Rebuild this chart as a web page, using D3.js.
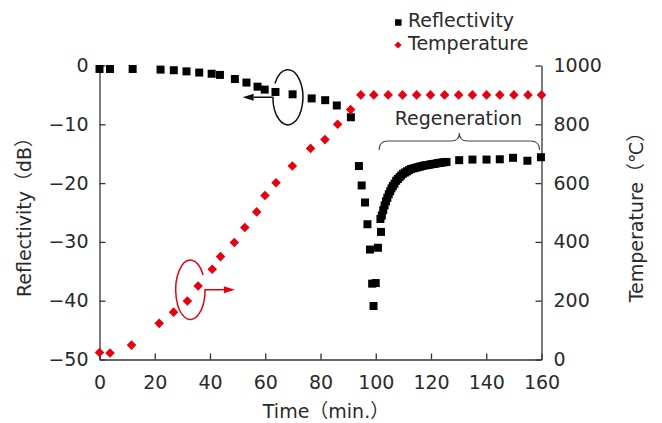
<!DOCTYPE html>
<html>
<head>
<meta charset="utf-8">
<script src="https://cdn.jsdelivr.net/npm/d3@7"></script>
<style>
  html, body { margin: 0; padding: 0; background: #fff; }
  svg { display: block; }
  text { font-family: "DejaVu Sans", "Noto Sans CJK JP", sans-serif; fill: #2a2a2a; }
</style>
</head>
<body>
<svg id="chart" width="662" height="423"></svg>
<script>
// Reflectivity of the grating (dB) versus time (min.)
const reflTime = [0, 3.8, 12, 22.1, 26.9, 31.5, 36.1, 40.6, 43.6, 49, 53.2, 57.2, 59.8, 63.7, 69.9, 76.8, 81.7, 85.9, 91,
  93.9, 94.9, 96.1, 97, 97.9, 98.7, 99.2, 100, 100.8, 101.9, 101.7,
  102.2, 102.7, 103.2, 103.7, 104.2, 104.7, 105.2, 105.7, 106.2, 106.8, 107.4, 108.0, 108.6, 109.2, 109.9,
  110.6, 111.3, 112.0, 112.8, 113.6, 114.4, 115.2, 116.0, 116.8, 117.6, 118.4, 119.2, 120.0, 120.8, 121.6,
  122.4, 123.2, 124.0, 124.8, 125.6,
  130.2, 135, 140.1, 144.9, 149.7, 154.9, 159.8];
const reflValue = [-0.6, -0.6, -0.6, -0.7, -0.8, -1.0, -1.2, -1.4, -1.6, -2.3, -2.9, -3.6, -4.1, -4.5, -4.9, -5.6, -5.9, -6.8, -8.8,
  -17.1, -20.4, -23.3, -27.0, -31.3, -37.1, -40.9, -37.0, -31.0, -28.3, -26.1,
  -25.5, -24.6, -23.8, -23.1, -22.5, -21.9, -21.4, -20.9, -20.5, -20.1, -19.6, -19.3, -19.0, -18.7, -18.4,
  -18.2, -18.0, -17.8, -17.6, -17.5, -17.4, -17.3, -17.2, -17.1, -17.0, -16.95, -16.9, -16.8, -16.75, -16.7,
  -16.6, -16.55, -16.5, -16.45, -16.4,
  -16.1, -16.0, -16.0, -15.95, -15.7, -16.2, -15.6];

// Furnace temperature (°C) versus time (min.)
const tempTime = [0, 3.8, 11.6, 21.6, 26.8, 31.8, 35.7, 40.8, 43.8, 48.8, 52.6, 56.9, 59.9, 63.9, 69.8, 76.4, 81.6, 86.2, 90.9,
  94.6, 99.3, 104.5, 109.7, 114.8, 119.8, 124.9, 130, 135, 140.1, 144.9, 150, 155.1, 160];
const tempValue = [24, 22, 49, 123, 161, 199, 250, 307, 350, 398, 449, 502, 558, 601, 658, 718, 748, 800, 850,
  900, 900, 900, 900, 900, 900, 900, 900, 900, 900, 900, 900, 900, 900];

// Axis ticks
const timeTicks = [0, 20, 40, 60, 80, 100, 120, 140, 160];
const dbTicks = [0, -10, -20, -30, -40, -50];
const tempTicks = [0, 200, 400, 600, 800, 1000];

const svg = d3.select("#chart");
const RED = "#e8000f";
const AXIS = "#333";
const FS = 19;

const x = d3.scaleLinear().domain([0, 160]).range([99.5, 541.5]);
const yL = d3.scaleLinear().domain([-50, 0]).range([359.5, 65.5]);
const yR = d3.scaleLinear().domain([0, 1000]).range([359.5, 65.5]);

function styleAxis(g) {
  g.select(".domain").attr("stroke", AXIS).attr("stroke-width", 1.3);
  g.selectAll(".tick line").attr("stroke", AXIS).attr("stroke-width", 1.3);
  g.selectAll(".tick text").attr("font-size", FS).attr("fill", "#2a2a2a")
    .attr("font-family", "'DejaVu Sans', sans-serif");
}

// Bottom axis
svg.append("g").attr("transform", `translate(0,${yL(-50)})`)
  .call(d3.axisBottom(x).tickValues(timeTicks).tickSizeInner(-6).tickSizeOuter(0).tickPadding(16))
  .call(styleAxis);

// Left axis (reflectivity)
svg.append("g").attr("transform", `translate(${x(0)},0)`)
  .call(d3.axisLeft(yL).tickValues(dbTicks).tickSizeInner(-6).tickSizeOuter(0).tickPadding(11)
    .tickFormat(d => d === 0 ? "0" : "\u2212" + Math.abs(d)))
  .call(styleAxis);

// Right axis (temperature)
svg.append("g").attr("transform", `translate(${x(160)},0)`)
  .call(d3.axisRight(yR).tickValues(tempTicks).tickSizeInner(-6).tickSizeOuter(0).tickPadding(12)
    .tickFormat(d3.format("d")))
  .call(styleAxis);

// Axis titles
svg.append("text").attr("x", x(82)).attr("y", 418).attr("text-anchor", "middle")
  .attr("font-size", FS).text("Time（min.）");
svg.append("text").attr("transform", `translate(31,${yL(-25)}) rotate(-90)`)
  .attr("text-anchor", "middle").attr("font-size", FS).text("Reflectivity（dB）");
svg.append("text").attr("transform", `translate(643,${yR(500)}) rotate(-90)`)
  .attr("text-anchor", "middle").attr("font-size", FS).text("Temperature（℃）");

// Reflectivity markers
const reflData = reflTime.map((t, i) => ({ t, v: reflValue[i] }));
svg.append("g").selectAll("path").data(reflData).join("path")
  .attr("d", d3.symbol(d3.symbolSquare, 64))
  .attr("transform", d => `translate(${x(d.t)},${yL(d.v)})`)
  .attr("fill", "#000");

// Temperature markers
const tempData = tempTime.map((t, i) => ({ t, v: tempValue[i] }));
svg.append("g").selectAll("path").data(tempData).join("path")
  .attr("d", d3.symbol(d3.symbolSquare, 46))
  .attr("transform", d => `translate(${x(d.t)},${yR(d.v)}) rotate(45)`)
  .attr("fill", RED);

// Ellipse callout with arrow, pointing to an axis
function callout(cx, cy, rx, ry, a0, a1, sweep, tipX, color) {
  const p0 = [cx + rx * Math.cos(a0), cy + ry * Math.sin(a0)];
  const p1 = [cx + rx * Math.cos(a1), cy + ry * Math.sin(a1)];
  const dir = Math.sign(tipX - p1[0]);
  const base = tipX - dir * 11;
  svg.append("path")
    .attr("d", `M${p0[0]},${p0[1]} A${rx},${ry} 0 1 ${sweep} ${p1[0]},${p1[1]} L${base},${p1[1]}`)
    .attr("fill", "none").attr("stroke", color).attr("stroke-width", 1.5);
  svg.append("path")
    .attr("d", `M${tipX},${p1[1]} L${base},${p1[1] - 3.5} L${base},${p1[1] + 3.5} Z`)
    .attr("fill", color);
}
const deg = Math.PI / 180;
callout(x(68.2), yL(-5.4), 15, 27.5, -150 * deg, 180 * deg, 1, x(51.8), "#111");
callout(x(32.9), yR(237), 14.7, 29.7, -30 * deg, 0, 0, x(49), RED);

// Regeneration brace
const bx0 = x(101.2), bx1 = x(159.3), bm = (bx0 + bx1) / 2;
const by = 141, byEnd = 150, byTip = 133;
svg.append("path")
  .attr("d", `M${bx0},${byEnd} Q${bx0},${by} ${bx0 + 9},${by} L${bm - 8},${by} Q${bm},${by} ${bm},${byTip}
              Q${bm},${by} ${bm + 8},${by} L${bx1 - 9},${by} Q${bx1},${by} ${bx1},${byEnd}`)
  .attr("fill", "none").attr("stroke", "#444").attr("stroke-width", 1.1);
svg.append("text").attr("x", bm - 1).attr("y", 125).attr("text-anchor", "middle")
  .attr("font-size", FS).text("Regeneration");

// Legend
const legend = svg.append("g");
legend.append("path").attr("d", d3.symbol(d3.symbolSquare, 42))
  .attr("transform", "translate(398.3,22.5)").attr("fill", "#000");
legend.append("text").attr("x", 408).attr("y", 26.5).attr("font-size", FS).text("Reflectivity");
legend.append("path").attr("d", d3.symbol(d3.symbolSquare, 26))
  .attr("transform", "translate(398,45) rotate(45)").attr("fill", RED);
legend.append("text").attr("x", 408).attr("y", 50).attr("font-size", FS).text("Temperature");
</script>
</body>
</html>
